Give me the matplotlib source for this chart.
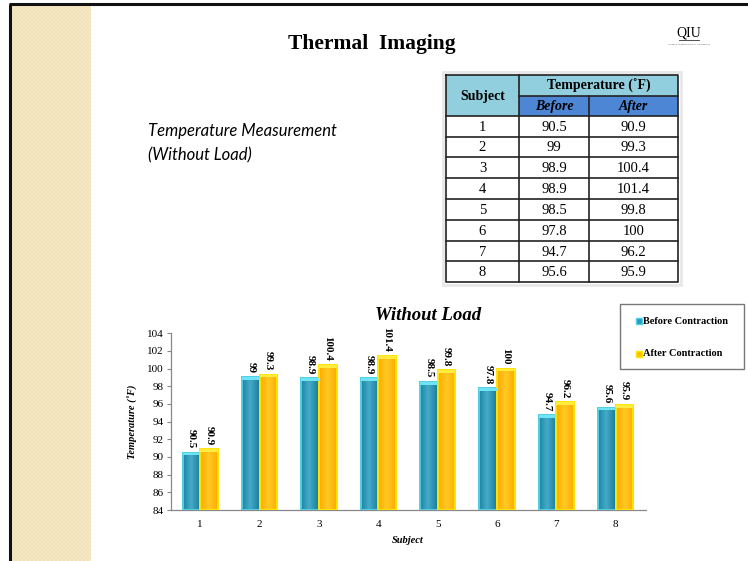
import numpy as np
import matplotlib
matplotlib.use('Agg')
import matplotlib.pyplot as plt
from matplotlib.patches import Rectangle
from matplotlib.colors import LinearSegmentedColormap, ListedColormap

subjects = ['1', '2', '3', '4', '5', '6', '7', '8']
before = [90.5, 99, 98.9, 98.9, 98.5, 97.8, 94.7, 95.6]
after = [90.9, 99.3, 100.4, 101.4, 99.8, 100, 96.2, 95.9]
series_names = ['Before Contraction', 'After Contraction']
yticks = list(range(84, 105, 2))

SERIF = 'Liberation Serif'
W, H = 748, 561

fig = plt.figure(figsize=(W / 100, H / 100), dpi=100)

# full-page axes in pixel units for the slide decoration and the table
bg = fig.add_axes([0, 0, 1, 1])
bg.set_xlim(0, W)
bg.set_ylim(H, 0)
bg.axis('off')

# checkered beige strip on the left
yy, xx = np.mgrid[0:556, 0:80]
checker = ((xx // 2 + yy // 2) % 2).astype(float)
bg.imshow(checker, cmap=ListedColormap(['#F6E9C7', '#F1E1B6']),
          extent=[11, 91, 561, 5], aspect='auto', interpolation='nearest', zorder=0)
bg.plot([10, 10], [4, 561], color='#111111', lw=2.2, solid_capstyle='butt')
bg.plot([9, 748], [4, 4], color='#111111', lw=2.2, solid_capstyle='butt')

bg.text(372, 44, 'Thermal  Imaging', family=SERIF, fontweight='bold', fontsize=15.5,
        ha='center', va='center')

# logo
bg.text(689, 33, 'QIU', family=SERIF, fontsize=10, ha='center', va='center')
bg.plot([679, 699], [40, 40], color='#333333', lw=0.6)
bg.text(689, 44, 'QAIWAN INTERNATIONAL UNIVERSITY', fontsize=1.6, color='#555555',
        ha='center', va='center')

bg.text(148, 131, 'Temperature Measurement', family='Lato', style='italic',
        fontsize=12, ha='left', va='center')
bg.text(148, 155, '(Without Load)', family='Lato', style='italic',
        fontsize=12, ha='left', va='center')

# table
tx = [446, 519, 589, 678]
ty0, ty1, ty2 = 75, 95.5, 115.7
row_h = (282.3 - ty2) / len(subjects)
light, dark = '#92CFDE', '#4E86D6'
bg.add_patch(Rectangle((tx[0] - 3, ty0 - 3), tx[3] - tx[0] + 6, 282.3 - ty0 + 6,
                       facecolor='none', edgecolor='#E8E8E8', lw=2, zorder=1))
bg.add_patch(Rectangle((tx[0], ty0), tx[1] - tx[0], ty2 - ty0, facecolor=light, zorder=2))
bg.add_patch(Rectangle((tx[1], ty0), tx[3] - tx[1], ty1 - ty0, facecolor=light, zorder=2))
bg.add_patch(Rectangle((tx[1], ty1), tx[3] - tx[1], ty2 - ty1, facecolor=dark, zorder=2))
line_kw = dict(color='#222222', lw=1.2, zorder=3)
bg.plot([tx[0], tx[3], tx[3], tx[0], tx[0]], [ty0, ty0, 282.3, 282.3, ty0], **line_kw)
bg.plot([tx[1], tx[1]], [ty0, 282.3], **line_kw)
bg.plot([tx[2], tx[2]], [ty1, 282.3], **line_kw)
bg.plot([tx[1], tx[3]], [ty1, ty1], **line_kw)
for r in range(len(subjects)):
    bg.plot([tx[0], tx[3]], [ty2 + r * row_h] * 2, **line_kw)

bg.text((tx[0] + tx[1]) / 2, (ty0 + ty2) / 2 + 1, 'Subject', family=SERIF,
        fontweight='bold', fontsize=10, ha='center', va='center', zorder=4)
bg.text((tx[1] + tx[3]) / 2, (ty0 + ty1) / 2 + 1, 'Temperature (˚F)', family=SERIF,
        fontweight='bold', fontsize=10, ha='center', va='center', zorder=4)
bg.text((tx[1] + tx[2]) / 2, (ty1 + ty2) / 2 + 1, 'Before', family=SERIF,
        fontweight='bold', style='italic', fontsize=10, ha='center', va='center', zorder=4)
bg.text((tx[2] + tx[3]) / 2, (ty1 + ty2) / 2 + 1, 'After', family=SERIF,
        fontweight='bold', style='italic', fontsize=10, ha='center', va='center', zorder=4)
for r, (s, b, a) in enumerate(zip(subjects, before, after)):
    yc = ty2 + (r + 0.5) * row_h + 1
    for col, val in enumerate([s, f'{b:g}', f'{a:g}']):
        bg.text((tx[col] + tx[col + 1]) / 2, yc, val, family=SERIF, fontsize=10.5,
                ha='center', va='center', zorder=4)

# bar chart
ax = fig.add_axes([170.5 / W, 1 - 510 / H, (645.5 - 170.5) / W, (510 - 333.3) / H])
ax.patch.set_alpha(0)

def gradient(stops):
    cmap = LinearSegmentedColormap.from_list('g', stops)
    return cmap(np.linspace(0, 1, 64))[None, :, :]

blue_grad = gradient([(0, '#1C84A0'), (0.45, '#46ABCA'), (1, '#187C98')])
gold_grad = gradient([(0, '#FFAC00'), (0.5, '#FFC923'), (1, '#FFAA00')])

x = np.arange(len(subjects))
bw = 0.296
base = yticks[0]
series = [
    (before, -bw / 2, blue_grad, '#4FCFE6', '#6FE4F4'),
    (after, bw / 2, gold_grad, '#FFE400', '#FFEC40'),
]
for vals, off, grad, edge, cap in series:
    heights = [v - base for v in vals]
    bars = ax.bar(x + off, heights, bw, bottom=base, color='none', edgecolor=edge,
                  lw=1.4, zorder=3)
    for bar, v in zip(bars, vals):
        bx = bar.get_x()
        im = ax.imshow(grad, extent=[bx, bx + bw, base, v], aspect='auto', zorder=2,
                       interpolation='bilinear')
        im.set_clip_path(bar)
        ax.add_patch(Rectangle((bx, v - 0.3), bw, 0.3, facecolor=cap, edgecolor='none',
                               zorder=4))
        ax.annotate(f'{v:g}', (bx + bw / 2, v), xytext=(0, 3), textcoords='offset points',
                    rotation=270, ha='center', va='bottom', family=SERIF,
                    fontweight='bold', fontsize=8, zorder=5)

ax.set_xlim(-0.5, len(subjects) - 0.5)
ax.set_ylim(base, yticks[-1])
ax.set_xticks(x)
ax.set_xticklabels(subjects, family=SERIF, fontsize=8)
ax.set_yticks(yticks)
ax.set_yticklabels([str(t) for t in yticks], family=SERIF, fontsize=8)
ax.tick_params(axis='x', length=0, pad=7)
ax.tick_params(axis='y', length=3, color='#888888', pad=2)
for side in ['top', 'right']:
    ax.spines[side].set_visible(False)
for side in ['left', 'bottom']:
    ax.spines[side].set_color('#888888')
    ax.spines[side].set_linewidth(0.9)
ax.set_ylabel('Temperature (˚F)', family=SERIF, fontweight='bold', style='italic',
              fontsize=7.5, labelpad=6)
ax.set_xlabel('Subject', family=SERIF, fontweight='bold', style='italic',
              fontsize=7.5, labelpad=5)

bg.text(428, 315, 'Without Load', family=SERIF, fontweight='bold', style='italic',
        fontsize=13.5, ha='center', va='center')

# legend box
bg.add_patch(Rectangle((620, 304), 124, 65, facecolor='white', edgecolor='#777777',
                       lw=1, zorder=5))
for yc, name, face, edge in [(321, series_names[0], '#2A9CBA', '#4FCFE6'),
                             (353.5, series_names[1], '#FFC000', '#FFE400')]:
    bg.add_patch(Rectangle((636.5, yc - 3), 6, 6, facecolor=face, edgecolor=edge,
                           lw=1, zorder=6))
    bg.text(643.5, yc, name, family=SERIF, fontweight='bold', fontsize=7.5,
            ha='left', va='center', zorder=6)

fig.savefig('out.png', dpi=100)
